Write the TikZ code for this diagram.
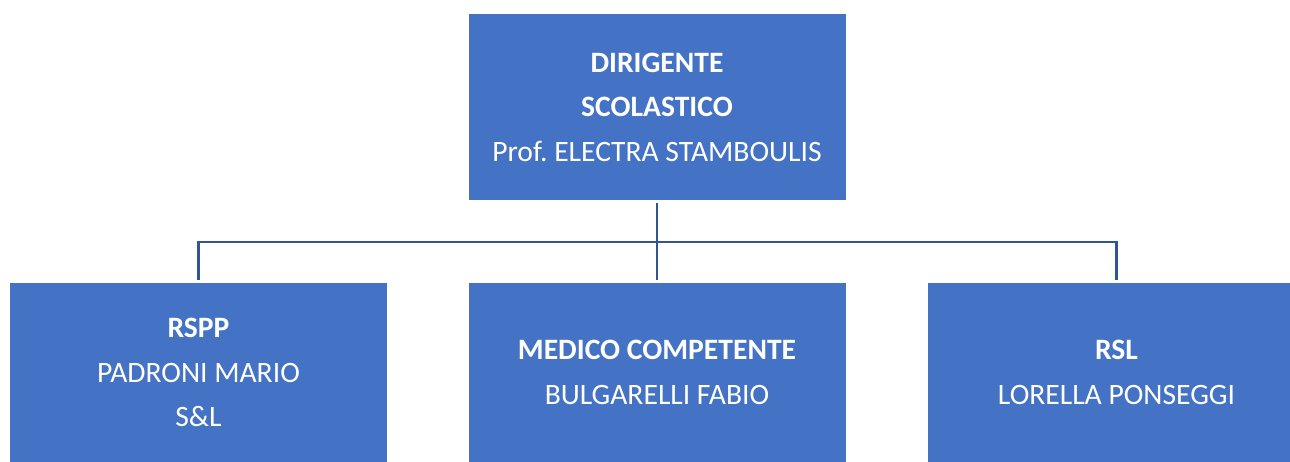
\documentclass[tikz,border=0pt]{standalone}
\usepackage{fontspec}
\setmainfont{Carlito}
\usepackage{tikz}
\definecolor{boxblue}{RGB}{68,114,196}
\definecolor{linkblue}{RGB}{47,85,151}
\frenchspacing

\begin{document}
\begin{tikzpicture}[x=1pt,y=-1pt,
	role/.style={fill=boxblue, text=white, align=center, inner sep=0pt,
		minimum width=377pt, font=\fontsize{29.6}{44.5}\selectfont},
	link/.style={draw=linkblue, line width=2.5pt}]
	\path[use as bounding box, clip] (0,0) rectangle (1290,462);
	% vertice
	\node[role, minimum height=186pt] (ds) at (657,107)
		{\textbf{DIRIGENTE}\\ \textbf{SCOLASTICO}\\ Prof. ELECTRA STAMBOULIS};
	% figure di supporto
	\node[role, minimum height=179pt] (rspp) at (198.5,372.5)
		{\textbf{RSPP}\\ PADRONI MARIO\\ S\&L};
	\node[role, minimum height=179pt] (medico) at (657,372.5)
		{\textbf{MEDICO COMPETENTE}\\ BULGARELLI FABIO};
	\node[role, minimum height=179pt] (rsl) at (1116.5,372.5)
		{\textbf{RSL}\\ LORELLA PONSEGGI};
	\coordinate (bus) at (657,242);
	% collegamenti
	\draw[link, shorten <=3pt, shorten >=3pt] (ds.south) -- (medico.north);
	\draw[link, shorten <=3pt, shorten >=3pt] (rspp.north) |- (bus) -| (rsl.north);
\end{tikzpicture}
\end{document}
